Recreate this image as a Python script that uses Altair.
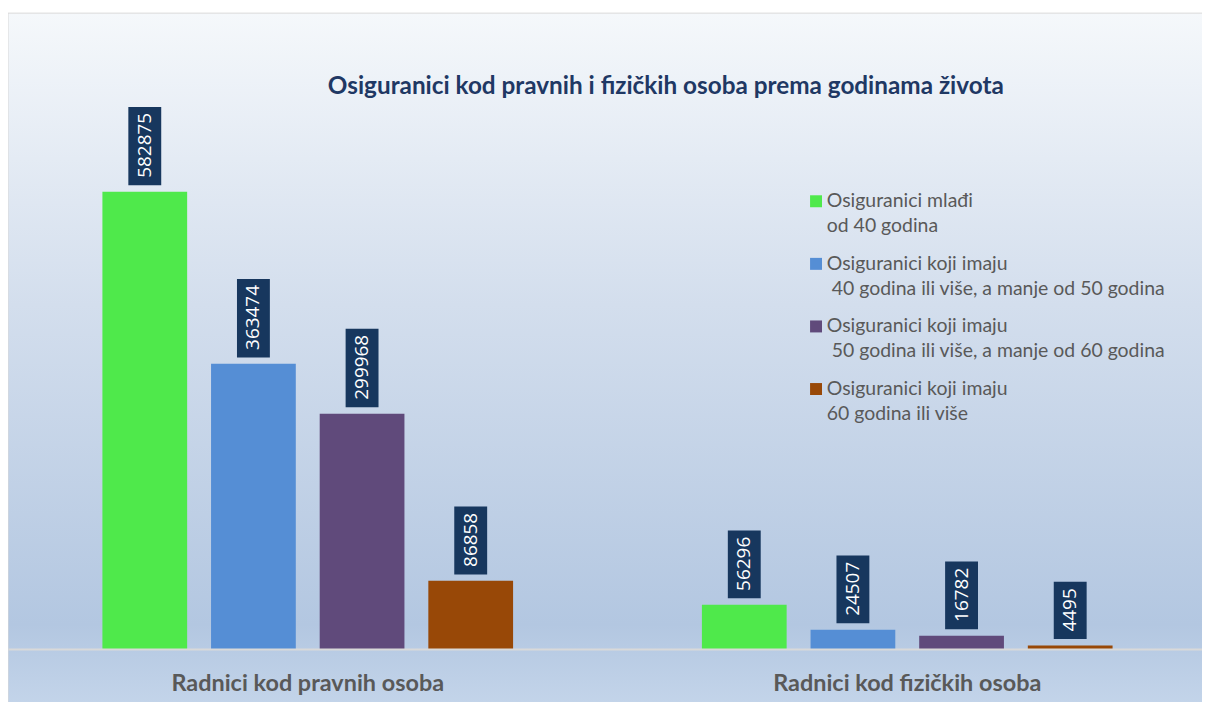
import altair as alt
import pandas as pd

categories = ["Radnici kod pravnih osoba", "Radnici kod fizičkih osoba"]
series = [
    "Osiguranici mlađi|od 40 godina",
    "Osiguranici koji imaju|\u200b\u00a040 godina ili više, a manje od 50 godina",
    "Osiguranici koji imaju|\u200b\u00a050 godina ili više, a manje od 60 godina",
    "Osiguranici koji imaju|60 godina ili više",
]
values_pravne = [582875, 363474, 299968, 86858]
values_fizicke = [56296, 24507, 16782, 4495]
colors = ["#4fe94b", "#558ed5", "#604a7b", "#984807"]

rows = []
for cat, vals in zip(categories, [values_pravne, values_fizicke]):
    for s, v in zip(series, vals):
        rows.append({"kategorija": cat, "serija": s, "vrijednost": v,
                     "oznaka": str(v), "n": len(str(v))})
df = pd.DataFrame(rows)

W, H = 1194, 551
YMAX = 700000

x_enc = alt.X("kategorija:N", sort=categories,
              scale=alt.Scale(paddingInner=0, paddingOuter=0, range=[-4, 1199],
                              round=False),
              axis=alt.Axis(title=None, labelAngle=0, ticks=False, tickSize=0,
                            labelPadding=23, labelFont="Lato", labelFontSize=23.5,
                            labelFontWeight="bold", labelColor="#595959",
                            labelLimit=700,
                            domainColor="#d9d9d9", domainWidth=2, grid=False,
                            zindex=1))
xo_enc = alt.XOffset("serija:N", sort=series,
                     scale=alt.Scale(paddingInner=0.22, paddingOuter=0.869,
                                     round=False))
y_enc = alt.Y("vrijednost:Q", scale=alt.Scale(domain=[0, YMAX], nice=False), axis=None)

gradient = alt.Gradient(
    gradient="linear", x1=0, x2=0, y1=0, y2=1,
    stops=[alt.GradientStop(offset=0, color="#f5f8fb"),
           alt.GradientStop(offset=0.42, color="#d3deed"),
           alt.GradientStop(offset=0.88, color="#b3c7e1"),
           alt.GradientStop(offset=1, color="#c4d5ea")])

bg = alt.Chart(pd.DataFrame({"d": [0]})).mark_rect(
    fill=gradient, stroke="#d9d9d9", strokeWidth=1
).encode(x=alt.value(-4), x2=alt.value(1210), y=alt.value(-87), y2=alt.value(610))

base = alt.Chart(df)

bars = base.mark_bar().encode(
    x=x_enc, xOffset=xo_enc, y=y_enc,
    color=alt.Color("serija:N", sort=series,
                    scale=alt.Scale(domain=series, range=colors),
                    legend=alt.Legend(
                        title=None, orient="none", legendX=797, legendY=92,
                        labelExpr="split(datum.label, '|')",
                        labelFont="Lato", labelFontSize=19.5, labelColor="#595959",
                        labelLimit=500, labelOffset=1, rowPadding=16.8,
                        symbolType="square", symbolSize=144, symbolStrokeWidth=0,
                        symbolOpacity=1, padding=0)),
)

boxes = []
for n in sorted(set(df["n"]), reverse=True):
    boxes.append(
        base.transform_filter(f"datum.n == {n}").mark_rule(
            color="#17375e", strokeWidth=33, strokeCap="butt",
            yOffset=-6.5, y2Offset=-(6.5 + 10.6 * n + 15)
        ).encode(x=x_enc, xOffset=xo_enc, y=y_enc, y2=alt.Y2("vrijednost:Q"))
    )

labels = base.mark_text(
    angle=270, align="left", baseline="middle", dx=14, color="white",
    font="Open Sans", fontSize=19
).encode(x=x_enc, xOffset=xo_enc, y=y_enc, text="oznaka:N")

chart = alt.layer(bg, bars, *boxes, labels).properties(
    width=W, height=H,
    padding={"left": 4, "top": 91, "right": 0, "bottom": 52},
    autosize=alt.AutoSizeParams(type="none"),
    title=alt.TitleParams(
        text="Osiguranici kod pravnih i fizičkih osoba prema godinama života",
        font="Lato", fontSize=24.4, fontWeight="bold", color="#1f3864",
        anchor="middle", frame="group", dx=59, offset=-87, zindex=1),
    background="white",
).configure_view(stroke=None).configure(style={"guide-label": {"lineHeight": 25}})

chart.save("out.html", embed_options={"renderer": "svg", "actions": False})
